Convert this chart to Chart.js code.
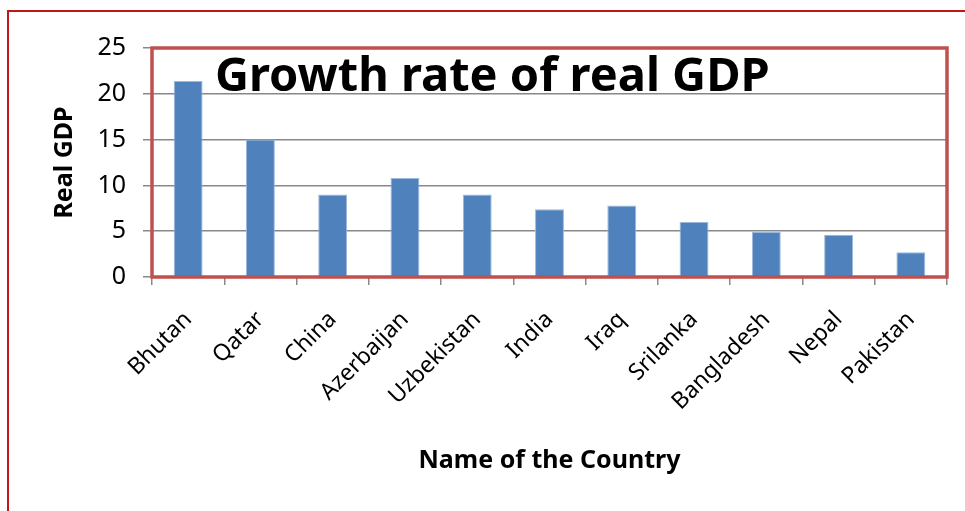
<!DOCTYPE html>
<html lang="en">
<head>
    <meta charset="UTF-8">
    <title>Growth rate of real GDP</title>
    <script src="https://cdn.jsdelivr.net/npm/chart.js"></script>
    <style>
        html, body {
            margin: 0;
            padding: 0;
            background: #fff;
            overflow: hidden;
        }
        .frame {
            position: relative;
            width: 965px;
            height: 511px;
        }
        .frame::before {
            content: "";
            position: absolute;
            left: 7px;
            top: 10px;
            right: -10px;
            bottom: -10px;
            border-top: 2px solid #c0171b;
            border-left: 2px solid #c0171b;
        }
    </style>
</head>
<body>
    <div class="frame">
        <canvas id="gdpChart"></canvas>
    </div>
    <script>
        const chartTitle = "Growth rate of real GDP";
        const countries = ["Bhutan", "Qatar", "China", "Azerbaijan", "Uzbekistan", "India", "Iraq", "Srilanka", "Bangladesh", "Nepal", "Pakistan"];
        const realGdp = [21.4, 15, 9, 10.8, 9, 7.4, 7.8, 6, 4.9, 4.6, 2.7];
        const yMin = 0;
        const yMax = 25;
        const yStep = 5;

        const font = '"Noto Sans", "DejaVu Sans", sans-serif';

        // red border round the plot area and the title written inside it
        const plotFrame = {
            id: "plotFrame",
            afterDatasetsDraw(chart) {
                const { ctx, chartArea: a } = chart;
                ctx.save();
                ctx.strokeStyle = "#c0504d";
                ctx.lineWidth = 3.5;
                ctx.strokeRect(a.left, a.top, a.right - a.left, a.bottom - a.top);
                ctx.fillStyle = "#000";
                ctx.font = "bold 47px " + font;
                ctx.textBaseline = "alphabetic";
                ctx.fillText(chartTitle, a.left + 63, a.top + 43);
                ctx.restore();
            }
        };

        new Chart(document.getElementById("gdpChart"), {
            type: "bar",
            data: {
                labels: countries,
                datasets: [{
                    label: "Real GDP",
                    data: realGdp,
                    backgroundColor: "#4f81bd",
                    borderColor: "#9db8dc",
                    borderWidth: 1,
                    barPercentage: 0.4,
                    categoryPercentage: 1
                }]
            },
            options: {
                responsive: true,
                maintainAspectRatio: false,
                animation: false,
                layout: { padding: { top: 48, right: 18, left: 0, bottom: 0 } },
                plugins: {
                    legend: { display: false },
                    tooltip: { enabled: false }
                },
                scales: {
                    x: {
                        afterFit: (s) => { s.height = 234; },
                        grid: {
                            offset: true,
                            drawOnChartArea: false,
                            color: "#888",
                            lineWidth: 1.5,
                            tickLength: 8
                        },
                        border: { display: false },
                        ticks: {
                            color: "#000",
                            font: { family: font, size: 23 },
                            maxRotation: 45,
                            minRotation: 45,
                            padding: 21
                        },
                        title: {
                            display: true,
                            text: "Name of the Country",
                            color: "#000",
                            font: { family: font, size: 25, weight: "bold" },
                            padding: { top: 0, bottom: 35 }
                        }
                    },
                    y: {
                        min: yMin,
                        max: yMax,
                        afterFit: (s) => { s.width = 152; },
                        grid: {
                            color: "#888",
                            lineWidth: 1.5,
                            tickLength: 9
                        },
                        border: { color: "#888", width: 1.5 },
                        ticks: {
                            stepSize: yStep,
                            color: "#000",
                            font: { family: font, size: 25 },
                            padding: 17
                        },
                        title: {
                            display: true,
                            text: "Real GDP",
                            color: "#000",
                            font: { family: font, size: 25, weight: "bold" },
                            padding: { top: 50, bottom: 0 }
                        }
                    }
                }
            },
            plugins: [plotFrame]
        });
    </script>
</body>
</html>
